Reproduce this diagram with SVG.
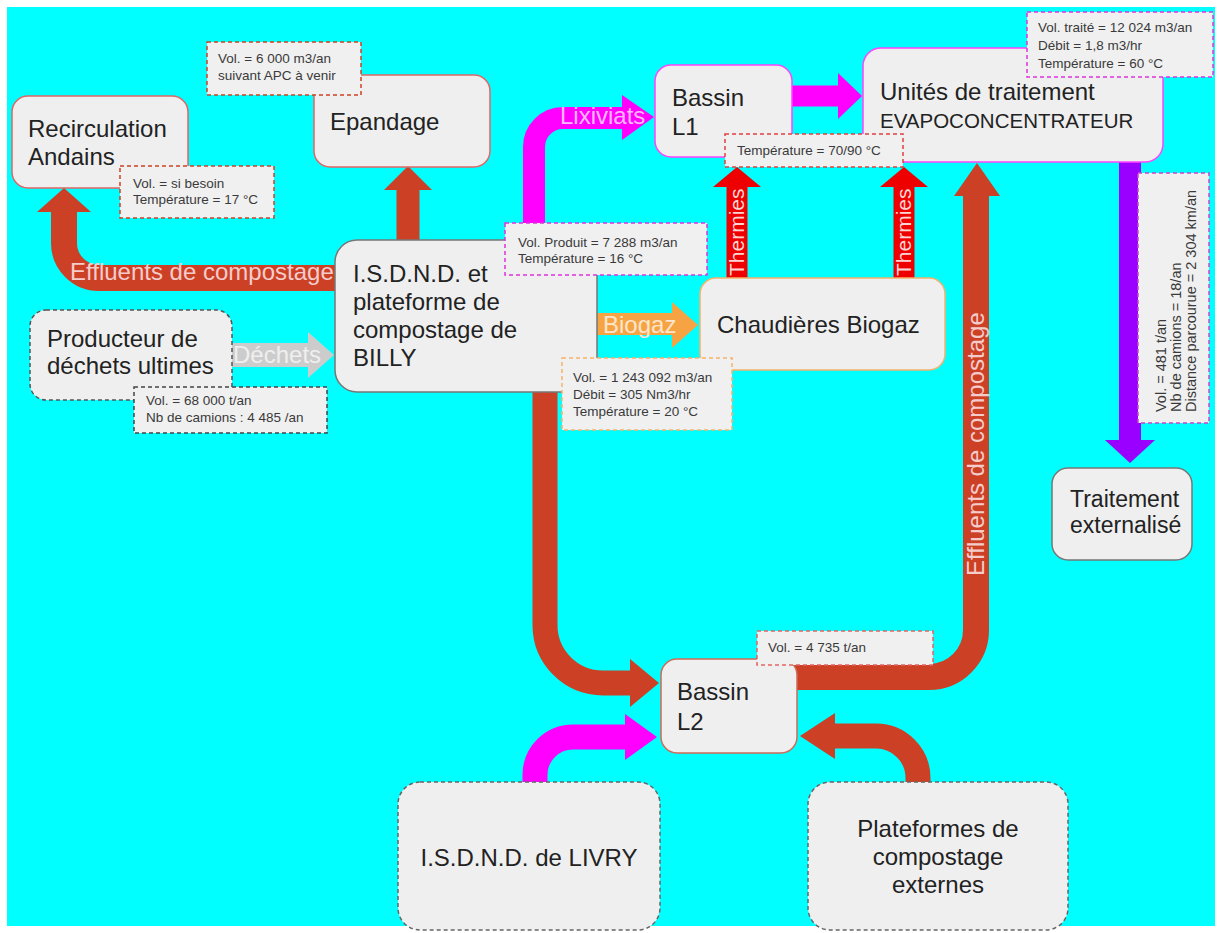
<svg xmlns="http://www.w3.org/2000/svg" width="1222" height="933" viewBox="0 0 1222 933">
<defs>
<style>
.t{font-family:"Liberation Sans",Arial,sans-serif;font-size:24px;fill:#222}
.t20{font-size:20.5px}
.t23{font-size:23px}
.lt{font-family:"Liberation Sans",Arial,sans-serif;font-size:13.5px;fill:#3a3a3a}
.lt14{font-size:14.5px}
.at{font-family:"Liberation Sans",Arial,sans-serif;font-size:24px}
.at21{font-size:21px}
.box{fill:#efefef;stroke-width:1.5}
.lb{fill:#f0f0f0;stroke-width:1.5;stroke-dasharray:4 3}
.br{fill:none;stroke:#cc4125}
.mg{fill:none;stroke:#ff00ff}
</style>
</defs>
<rect width="1222" height="933" fill="#ffffff"/>
<rect x="7" y="7" width="1208" height="919" fill="#00ffff"/>

<g id="connectors">
  <!-- Effluents de compostage (left) -->
  <path class="br" stroke-width="26" d="M340 278 H99 A35 35 0 0 1 64 243 V210"/>
  <polygon fill="#cc4125" points="37,212 91,212 64,188"/>
  <text class="at" x="70" y="280" fill="#f4cccc">Effluents de compostage</text>
  <!-- Epandage -->
  <path class="br" stroke-width="23" d="M408 245 V189"/>
  <polygon fill="#cc4125" points="384,190 432,190 408,166"/>
  <!-- Lixiviats -->
  <path class="mg" stroke-width="22" d="M534 245 V147 A29 29 0 0 1 563 118 H624"/>
  <polygon fill="#ff00ff" points="622,95 622,140 654,117"/>
  <text class="at" x="560" y="124" fill="#ffb8ff">Lixiviats</text>
  <!-- Bassin L1 to Unités -->
  <path class="mg" stroke-width="21" d="M790 96 H840"/>
  <polygon fill="#ff00ff" points="838,73 838,119 862,96"/>
  <!-- Thermies -->
  <path fill="none" stroke="#ee0000" stroke-width="21" d="M737 280 V186"/>
  <polygon fill="#ee0000" points="713,187 761,187 737,167"/>
  <text class="at at21" fill="#fbd5d5" transform="translate(744,276) rotate(-90)">Thermies</text>
  <path fill="none" stroke="#ee0000" stroke-width="21" d="M904 280 V186"/>
  <polygon fill="#ee0000" points="880,187 928,187 904,167"/>
  <text class="at at21" fill="#fbd5d5" transform="translate(911,276) rotate(-90)">Thermies</text>
  <!-- Déchets -->
  <path fill="none" stroke="#cccccc" stroke-width="24" d="M228 355 H310"/>
  <polygon fill="#cccccc" points="308,332 308,378 334,355"/>
  <text class="at" x="233" y="363" fill="#efefef">Déchets</text>
  <!-- Biogaz -->
  <path fill="none" stroke="#f6a443" stroke-width="22" d="M595 324 H674"/>
  <polygon fill="#f6a443" points="672,302 672,348 698,325"/>
  <text class="at" x="603" y="333" fill="#fce5cd">Biogaz</text>
  <!-- Purple to Traitement externalisé -->
  <path fill="none" stroke="#9900ff" stroke-width="22" d="M1130 158 V442"/>
  <polygon fill="#9900ff" points="1105,440 1155,440 1130,463"/>
  <!-- Effluents de compostage (right) -->
  <path class="br" stroke-width="26" d="M790 677 H929 A47 47 0 0 0 976 630 V194"/>
  <polygon fill="#cc4125" points="954,196 1000,196 977,163"/>
  <text class="at" fill="#f4cccc" transform="translate(984,576) rotate(-90)">Effluents de compostage</text>
  <!-- ISDND BILLY to Bassin L2 -->
  <path class="br" stroke-width="25" d="M545 385 V625 A58 58 0 0 0 603 683 H633"/>
  <polygon fill="#cc4125" points="630,659 630,707 659,683"/>
  <!-- LIVRY to Bassin L2 -->
  <path class="mg" stroke-width="25" d="M535 790 V775 A38 38 0 0 1 573 737 H627"/>
  <polygon fill="#ff00ff" points="625,714 625,760 657,737"/>
  <!-- Plateformes to Bassin L2 -->
  <path class="br" stroke-width="25" d="M918 790 V778 A42 42 0 0 0 876 736 H832"/>
  <polygon fill="#cc4125" points="835,713 835,759 800,736"/>
</g>

<g id="recirculation">
  <rect class="box" x="12" y="96" width="176" height="92" rx="16" stroke="#e06666"/>
  <text class="t" x="28" y="137">Recirculation</text>
  <text class="t" x="28" y="165">Andains</text>
</g>
<g id="epandage">
  <rect class="box" x="314" y="75" width="176" height="92" rx="16" stroke="#e06666"/>
  <text class="t" x="330" y="130">Epandage</text>
</g>
<g id="bassin-l1">
  <rect class="box" x="655" y="65" width="137" height="92" rx="16" stroke="#ff44ff"/>
  <text class="t" x="672" y="106">Bassin</text>
  <text class="t" x="672" y="135">L1</text>
</g>
<g id="unites">
  <rect class="box" x="863" y="48" width="300" height="114" rx="18" stroke="#ff44ff"/>
  <text class="t" x="880" y="100">Unités de traitement</text>
  <text class="t t20" x="880" y="128">EVAPOCONCENTRATEUR</text>
</g>
<g id="isdnd-billy">
  <rect class="box" x="335" y="240" width="262" height="152" rx="22" stroke="#777777"/>
  <text class="t" x="353" y="282">I.S.D.N.D. et</text>
  <text class="t" x="353" y="310">plateforme de</text>
  <text class="t" x="353" y="338">compostage de</text>
  <text class="t" x="353" y="366">BILLY</text>
</g>
<g id="producteur">
  <rect class="box" x="30" y="310" width="202" height="90" rx="16" stroke="#555555" stroke-dasharray="4 3"/>
  <text class="t" x="47" y="347">Producteur de</text>
  <text class="t" x="47" y="374">déchets ultimes</text>
</g>
<g id="chaudieres">
  <rect class="box" x="700" y="278" width="245" height="92" rx="16" stroke="#f6b26b"/>
  <text class="t" x="717" y="333">Chaudières Biogaz</text>
</g>
<g id="traitement-externalise">
  <rect class="box" x="1052" y="468" width="140" height="92" rx="16" stroke="#777777"/>
  <text class="t t23" x="1070" y="507">Traitement</text>
  <text class="t t23" x="1070" y="533">externalisé</text>
</g>
<g id="bassin-l2">
  <rect class="box" x="661" y="659" width="136" height="94" rx="16" stroke="#d06a55"/>
  <text class="t" x="677" y="700">Bassin</text>
  <text class="t" x="677" y="730">L2</text>
</g>
<g id="isdnd-livry">
  <rect class="box" x="398" y="782" width="262" height="148" rx="22" stroke="#666666" stroke-dasharray="4 3"/>
  <text class="t" x="529" y="866" text-anchor="middle">I.S.D.N.D. de LIVRY</text>
</g>
<g id="plateformes">
  <rect class="box" x="808" y="782" width="260" height="148" rx="22" stroke="#666666" stroke-dasharray="4 3"/>
  <text class="t" x="938" y="837" text-anchor="middle">Plateformes de</text>
  <text class="t" x="938" y="865" text-anchor="middle">compostage</text>
  <text class="t" x="938" y="893" text-anchor="middle">externes</text>
</g>

<g id="label-recirculation">
  <rect class="lb" x="120" y="166" width="154" height="52" stroke="#cc4125"/>
  <text class="lt" x="133" y="188">Vol. = si besoin</text>
  <text class="lt" x="133" y="204">Température = 17 °C</text>
</g>
<g id="label-epandage">
  <rect class="lb" x="207" y="42" width="154" height="53" stroke="#cc4125"/>
  <text class="lt" x="218" y="63">Vol. = 6 000 m3/an</text>
  <text class="lt" x="218" y="80">suivant APC à venir</text>
</g>
<g id="label-thermies">
  <rect class="lb" x="725" y="134" width="178" height="33" stroke="#e04040"/>
  <text class="lt" x="737" y="155">Température = 70/90 °C</text>
</g>
<g id="label-unites">
  <rect class="lb" x="1027" y="12" width="186" height="65" stroke="#dd33dd"/>
  <text class="lt" x="1038" y="32">Vol. traité = 12 024 m3/an</text>
  <text class="lt" x="1038" y="50">Débit = 1,8 m3/hr</text>
  <text class="lt" x="1038" y="68">Température = 60 °C</text>
</g>
<g id="label-lixiviats">
  <rect class="lb" x="505" y="223" width="202" height="52" stroke="#dd33dd"/>
  <text class="lt" x="518" y="247">Vol. Produit = 7 288 m3/an</text>
  <text class="lt" x="518" y="263">Température = 16 °C</text>
</g>
<g id="label-producteur">
  <rect class="lb" x="134" y="387" width="193" height="46" stroke="#444444"/>
  <text class="lt" x="146" y="405">Vol. = 68 000 t/an</text>
  <text class="lt" x="146" y="422">Nb de camions : 4 485 /an</text>
</g>
<g id="label-biogaz">
  <rect class="lb" x="562" y="358" width="170" height="72" stroke="#f6b26b"/>
  <text class="lt" x="573" y="382">Vol. = 1 243 092 m3/an</text>
  <text class="lt" x="573" y="399">Débit = 305 Nm3/hr</text>
  <text class="lt" x="573" y="416">Température = 20 °C</text>
</g>
<g id="label-externalise">
  <rect class="lb" x="1138" y="173" width="71" height="250" stroke="#cc44cc"/>
  <text class="lt lt14" transform="translate(1166,412) rotate(-90)">
    <tspan x="0" y="0">Vol. = 481 t/an</tspan>
    <tspan x="0" y="15">Nb de camions = 18/an</tspan>
    <tspan x="0" y="30">Distance parcourue = 2 304 km/an</tspan>
  </text>
</g>
<g id="label-l2">
  <rect class="lb" x="757" y="631" width="176" height="34" stroke="#e06666"/>
  <text class="lt" x="768" y="652">Vol. = 4 735 t/an</text>
</g>
</svg>
